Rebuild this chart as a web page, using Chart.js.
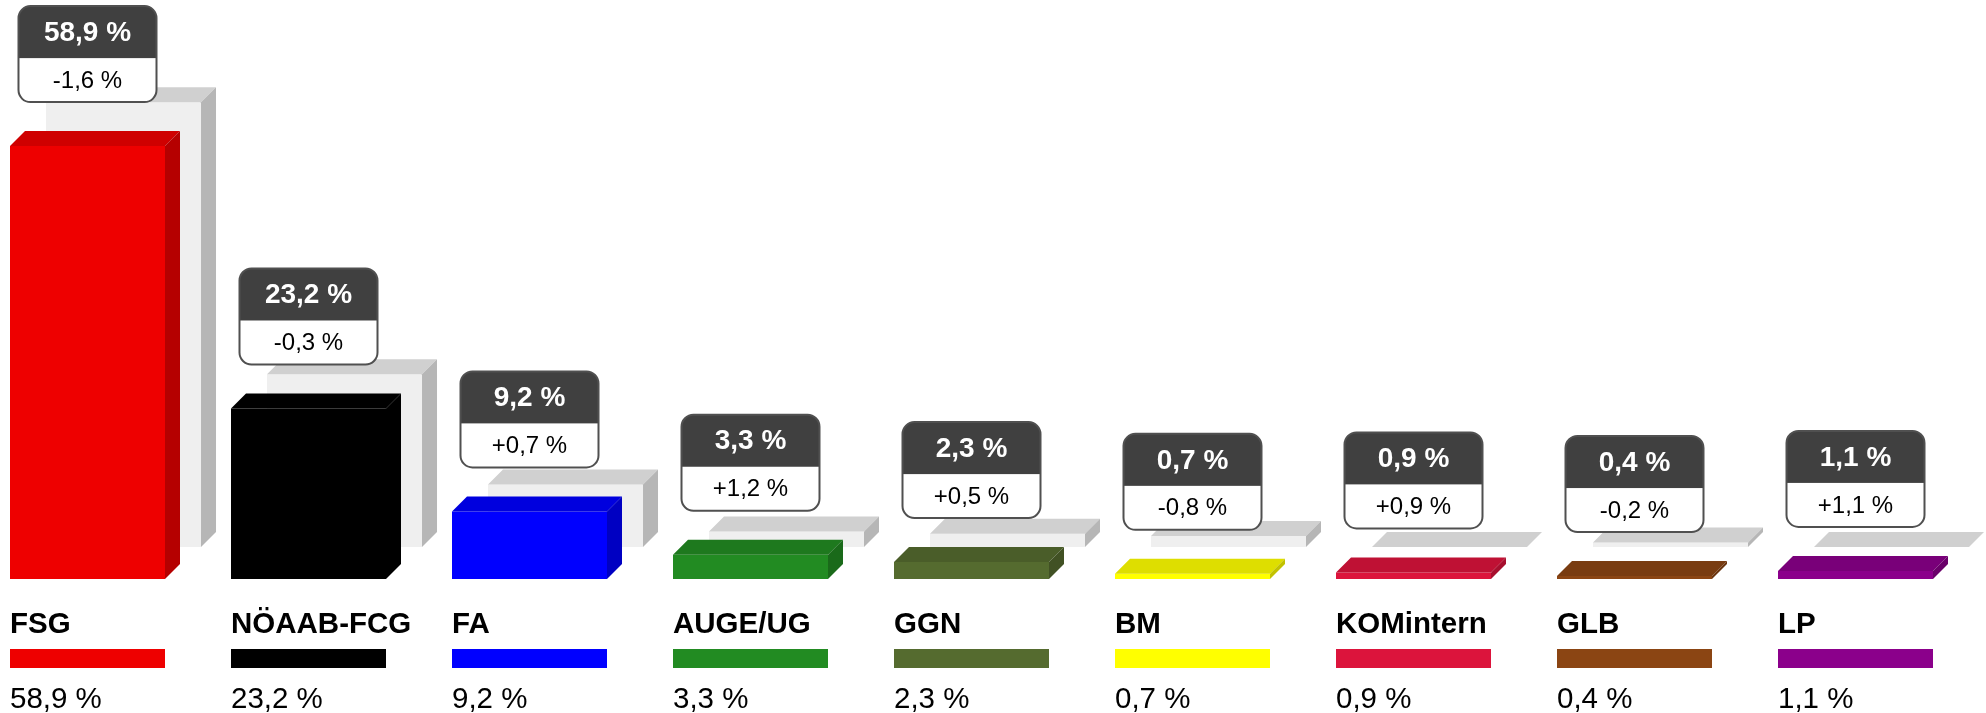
<!DOCTYPE html>
<html>
<head>
<meta charset="utf-8">
<title>Wahlergebnis</title>
<script src="https://cdn.jsdelivr.net/npm/chart.js@4/dist/chart.umd.min.js"></script>
<style>
  html, body { margin: 0; padding: 0; background: #fff; }
  #wrap { width: 1986px; height: 713px; }
</style>
</head>
<body>
<div id="wrap"><canvas id="resultChart" width="1986" height="713"></canvas></div>
<script>
const parties = ['FSG', 'NÖAAB-FCG', 'FA', 'AUGE/UG', 'GGN', 'BM', 'KOMintern', 'GLB', 'LP'];
const results = [58.9, 23.2, 9.2, 3.3, 2.3, 0.7, 0.9, 0.4, 1.1];
const changes = [-1.6, -0.3, 0.7, 1.2, 0.5, -0.8, 0.9, -0.2, 1.1];
const previous = [60.5, 23.5, 8.5, 2.1, 1.8, 1.5, 0.0, 0.6, 0.0];
const partyColors = ['#ee0000', '#000000', '#0000ff', '#228b22', '#556b2f', '#ffff00', '#dc143c', '#8b4513', '#8b008b'];

const FONT = '"Liberation Sans", Arial, sans-serif';
const DEPTH = 15;

function shade(hex, f) {
  const n = parseInt(hex.slice(1), 16);
  const r = Math.round(((n >> 16) & 255) * f);
  const g = Math.round(((n >> 8) & 255) * f);
  const b = Math.round((n & 255) * f);
  return `rgb(${r},${g},${b})`;
}

function pct(v, signed) {
  const s = Math.abs(v).toFixed(1).replace('.', ',') + ' %';
  if (!signed) return s;
  return (v < 0 ? '-' : '+') + s;
}

function roundedRect(ctx, x, y, w, h, r) {
  ctx.beginPath();
  ctx.moveTo(x + r, y);
  ctx.lineTo(x + w - r, y);
  ctx.arcTo(x + w, y, x + w, y + r, r);
  ctx.lineTo(x + w, y + h - r);
  ctx.arcTo(x + w, y + h, x + w - r, y + h, r);
  ctx.lineTo(x + r, y + h);
  ctx.arcTo(x, y + h, x, y + h - r, r);
  ctx.lineTo(x, y + r);
  ctx.arcTo(x, y, x + r, y, r);
  ctx.closePath();
}

// top and side faces, drawn right after each dataset so the grey row stays behind
const bars3d = {
  id: 'bars3d',
  afterDatasetDraw(chart, args) {
    const ds = chart.data.datasets[args.index];
    const ctx = chart.ctx;
    ctx.save();
    args.meta.data.forEach((bar, i) => {
      const { x, y, base, width } = bar.getProps(['x', 'y', 'base', 'width'], true);
      const l = x - width / 2;
      const r = x + width / 2;
      const col = Array.isArray(ds.backgroundColor) ? ds.backgroundColor[i] : ds.backgroundColor;
      ctx.fillStyle = shade(col, 0.87);
      ctx.beginPath();
      ctx.moveTo(l, y);
      ctx.lineTo(l + DEPTH, y - DEPTH);
      ctx.lineTo(r + DEPTH, y - DEPTH);
      ctx.lineTo(r, y);
      ctx.closePath();
      ctx.fill();
      ctx.fillStyle = shade(col, 0.76);
      ctx.beginPath();
      ctx.moveTo(r, y);
      ctx.lineTo(r + DEPTH, y - DEPTH);
      ctx.lineTo(r + DEPTH, base - DEPTH);
      ctx.lineTo(r, base);
      ctx.closePath();
      ctx.fill();
    });
    ctx.restore();
  },
  afterDraw(chart) {
    const ctx = chart.ctx;
    const meta = chart.getDatasetMeta(1);
    ctx.save();
    meta.data.forEach((bar, i) => {
      const { x, y, width } = bar.getProps(['x', 'y', 'width'], true);

      // value bubble
      const bw = 138, bh = 96, top = y - 44 - bh, left = x - bw / 2;
      roundedRect(ctx, left, top, bw, bh, 12);
      ctx.fillStyle = '#ffffff';
      ctx.fill();
      ctx.save();
      ctx.clip();
      ctx.fillStyle = '#404040';
      ctx.fillRect(left, top, bw, 52);
      ctx.restore();
      roundedRect(ctx, left, top, bw, bh, 12);
      ctx.strokeStyle = '#505050';
      ctx.lineWidth = 2;
      ctx.stroke();

      ctx.textAlign = 'center';
      ctx.textBaseline = 'middle';
      ctx.fillStyle = '#ffffff';
      ctx.font = `bold 28px ${FONT}`;
      ctx.fillText(pct(results[i]), x, top + 27);
      ctx.fillStyle = '#000000';
      ctx.font = `24px ${FONT}`;
      ctx.fillText(pct(changes[i], true), x, top + 75);

      // legend row under the bars
      const lx = x - width / 2;
      ctx.textAlign = 'left';
      ctx.textBaseline = 'alphabetic';
      ctx.font = `bold 29.5px ${FONT}`;
      ctx.fillText(parties[i], lx, 633);
      ctx.fillStyle = partyColors[i];
      ctx.fillRect(lx, 649, width, 19);
      ctx.fillStyle = '#000000';
      ctx.font = `29.5px ${FONT}`;
      ctx.fillText(pct(results[i]), lx, 708);
    });
    ctx.restore();
  }
};

new Chart(document.getElementById('resultChart'), {
  type: 'bar',
  data: {
    labels: parties,
    datasets: [
      {
        label: 'Vorwahl',
        data: previous.map((v, i) => ({ x: i, y: v })),
        xAxisID: 'x2',
        yAxisID: 'y2',
        backgroundColor: '#efefef',
        borderWidth: 0,
        grouped: false,
        categoryPercentage: 1,
        barPercentage: 0.702,
        maxBarThickness: 155,
        clip: false,
        order: 2
      },
      {
        label: 'Ergebnis',
        data: results,
        xAxisID: 'x',
        yAxisID: 'y',
        backgroundColor: partyColors,
        borderWidth: 0,
        grouped: false,
        categoryPercentage: 1,
        barPercentage: 0.702,
        maxBarThickness: 155,
        clip: false,
        order: 1
      }
    ]
  },
  options: {
    responsive: false,
    animation: false,
    layout: {
      padding: { left: 87.5, right: 130.5, top: 0, bottom: 134 }
    },
    scales: {
      x: { type: 'category', display: false, offset: false },
      x2: {
        type: 'linear', display: false, offset: false, min: -0.163, max: 7.837,
        // one tick per party so the bar width follows the category spacing
        afterBuildTicks: (axis) => { axis.ticks = parties.map((p, i) => ({ value: i })); }
      },
      y: { display: false, min: 0, max: 78.78 },
      y2: { display: false, min: -4.354, max: 74.43 }
    },
    plugins: {
      legend: { display: false },
      tooltip: { enabled: false }
    }
  },
  plugins: [bars3d]
});
</script>
</body>
</html>
